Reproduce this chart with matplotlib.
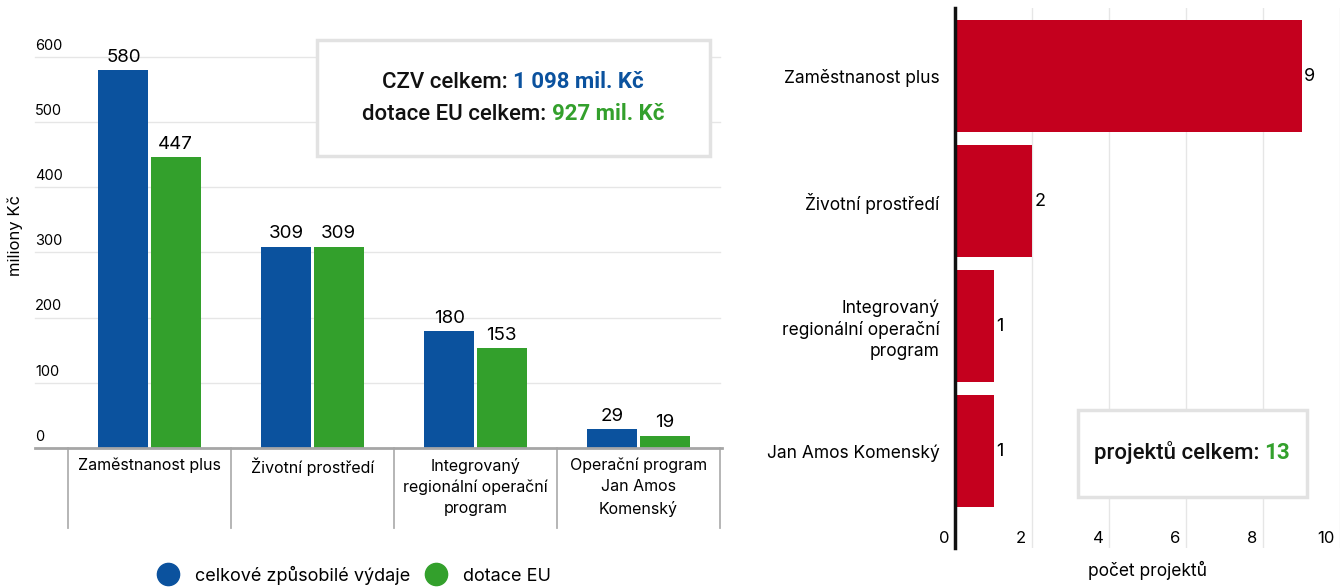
import matplotlib.pyplot as plt
import numpy as np
from matplotlib.lines import Line2D
from matplotlib.patches import Rectangle

plt.rcParams.update(
    {
        "font.family": ["Inter", "DejaVu Sans"],
        "font.size": 10,
        "figure.dpi": 100,
        "savefig.dpi": 100,
    }
)

# Data
programs = [
    "Zaměstnanost plus",
    "Životní prostředí",
    "Integrovaný\nregionální operační\nprogram",
    "Operační program\nJan Amos\nKomenský",
]
czv = [580, 309, 180, 29]
dotace = [447, 309, 153, 19]
y_ticks = [0, 100, 200, 300, 400, 500, 600]

project_programs = [
    "Zaměstnanost plus",
    "Životní prostředí",
    "Integrovaný\nregionální operační\nprogram",
    "Jan Amos Komenský",
]
projects = [9, 2, 1, 1]
x_ticks = [0, 2, 4, 6, 8, 10]

BLUE = "#0b529e"
GREEN = "#33a02c"
RED = "#c4001e"
GRID = "#e6e6e6"
BOX_EDGE = "#e2e2e2"

W, H = 1344, 587


def fx(px):
    return px / W


def fy(py):
    return 1 - py / H


def mixed_line(fig, cx, cy, parts, size):
    """Centre a line made of differently coloured pieces at (cx, cy) in pixels."""
    renderer = fig.canvas.get_renderer()
    texts = []
    for s, color, weight in parts:
        t = fig.text(0, fy(cy), s, color=color, fontweight=weight, fontsize=size,
                     family=["Roboto", "DejaVu Sans"], va="center", ha="left", zorder=6)
        texts.append(t)
    gap = size * 100 / 72 * 0.25
    widths = [t.get_window_extent(renderer).width for t in texts]
    total = sum(widths) + gap * (len(texts) - 1)
    x = cx - total / 2
    for t, w in zip(texts, widths):
        t.set_x(fx(x))
        x += w + gap


def box(fig, x0, y0, x1, y1):
    fig.add_artist(Rectangle((fx(x0), fy(y1)), fx(x1) - fx(x0), fy(y0) - fy(y1),
                             transform=fig.transFigure, facecolor="white",
                             edgecolor=BOX_EDGE, lw=2.5, zorder=5))


fig = plt.figure(figsize=(W / 100, H / 100))

# ---- left: grouped bars ----
ax = fig.add_axes([fx(68), fy(448), fx(720) - fx(68), fy(57) - fy(448)])
x = np.arange(len(programs))
bw = 0.307
ax.bar(x - 0.16, czv, bw, color=BLUE, zorder=3)
ax.bar(x + 0.16, dotace, bw, color=GREEN, zorder=3)
for xi, v in zip(x - 0.16, czv):
    ax.annotate(str(v), (xi, v), xytext=(0, 3), textcoords="offset points",
                ha="center", va="bottom", fontsize=13.5)
for xi, v in zip(x + 0.16, dotace):
    ax.annotate(str(v), (xi, v), xytext=(0, 3), textcoords="offset points",
                ha="center", va="bottom", fontsize=13.5)

ax.set_xlim(-0.5, 3.5)
ax.set_ylim(0, 600)
for s in ax.spines.values():
    s.set_visible(False)
ax.set_yticks([])
ax.set_xticks(x, programs, fontsize=11.5, linespacing=1.5)
ax.tick_params(axis="x", length=0, pad=7)

ytr = ax.get_yaxis_transform()
for v in y_ticks[1:]:
    ax.plot([-0.05, 1], [v, v], transform=ytr, color=GRID, lw=1, clip_on=False, zorder=1)
ax.plot([-0.05, 1.003], [0, 0], transform=ytr, color="#a6a6a6", lw=2, clip_on=False, zorder=4)
for v in y_ticks:
    ax.annotate(str(v), (-0.0506, v), xycoords=ytr, xytext=(0, 3), textcoords="offset points",
                ha="left", va="bottom", fontsize=10.5)
xtr = ax.get_xaxis_transform()
for b in np.arange(-0.5, 4.0, 1.0):
    ax.plot([b, b], [0, -0.205], transform=xtr, color="#b0b0b0", lw=1.3, clip_on=False)

fig.text(fx(15), fy(235), "miliony Kč", rotation=90, ha="center", va="center", fontsize=12)

fig.legend(
    handles=[Line2D([], [], marker="o", ls="", markersize=16, color=BLUE),
             Line2D([], [], marker="o", ls="", markersize=16, color=GREEN)],
    labels=["celkové způsobilé výdaje", "dotace EU"],
    ncol=2, loc="center", bbox_to_anchor=(fx(355), fy(575)), frameon=False,
    fontsize=13, handlelength=1, handletextpad=1.0, columnspacing=0.9,
)

box(fig, 317, 40, 710, 156)
mixed_line(fig, 513, 82, [("CZV celkem:", "#111111", "medium"), ("1 098 mil. Kč", BLUE, "bold")], 16)
mixed_line(fig, 513, 114, [("dotace EU celkem:", "#111111", "medium"), ("927 mil. Kč", GREEN, "bold")], 16)

# ---- right: project counts ----
ax2 = fig.add_axes([fx(955), fy(548), fx(1340) - fx(955), fy(8) - fy(548)])
pos = np.arange(len(projects))
ax2.barh(pos, projects, height=0.9, color=RED, zorder=3)
for p, v in zip(pos, projects):
    ax2.annotate(str(v), (v, p), xytext=(2, 0), textcoords="offset points",
                 ha="left", va="center", fontsize=13)
ax2.set_xlim(0, 10)
ax2.set_ylim(3.776, -0.544)
for s in ax2.spines.values():
    s.set_visible(False)
ax2.spines["left"].set_visible(True)
ax2.spines["left"].set_color("#111111")
ax2.spines["left"].set_linewidth(2.5)
ax2.spines["left"].set_zorder(5)
for v in x_ticks[1:]:
    ax2.axvline(v, color=GRID, lw=1, zorder=1)
ax2.set_xticks([])
ax2.set_yticks(pos, project_programs, fontsize=12.5, linespacing=1.3)
ax2.tick_params(axis="y", length=0, pad=11)
xtr2 = ax2.get_xaxis_transform()
for v in x_ticks:
    ax2.annotate(str(v), (v, 0.0185), xycoords=xtr2, xytext=(-4, 0), textcoords="offset points",
                 ha="right", va="center", fontsize=12)
fig.text(fx(1148), fy(570), "počet projektů", ha="center", va="center", fontsize=12.5)

box(fig, 1078, 410, 1307, 497)
mixed_line(fig, 1192, 453, [("projektů celkem:", "#111111", "medium"), ("13", GREEN, "bold")], 16)

fig.savefig("out.png")
